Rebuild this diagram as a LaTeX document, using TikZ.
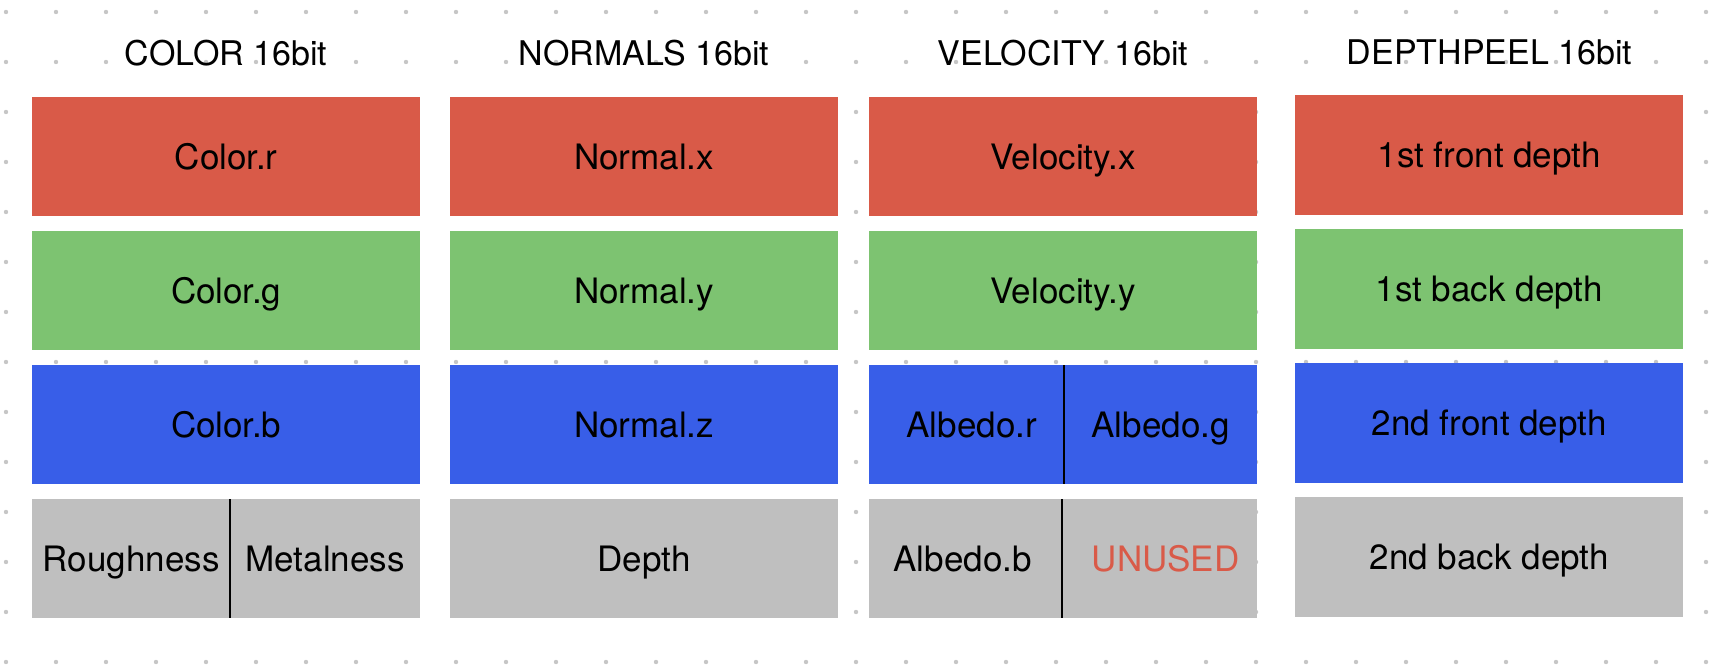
\documentclass[tikz,border=0pt]{standalone}
\usepackage{fontspec}
\setmainfont{TeX Gyre Heros}
\definecolor{cred}{HTML}{D95A48}
\definecolor{cgreen}{HTML}{7DC371}
\definecolor{cblue}{HTML}{385EE8}
\definecolor{cgray}{HTML}{BFBFBF}
\definecolor{cdot}{HTML}{C6C6C6}
\begin{document}
\begin{tikzpicture}[x=1pt,y=-1pt,
  cell/.style={rectangle, inner sep=0pt, anchor=north west, minimum height=119pt,
    text height=25pt, text depth=0pt, font=\fontsize{35}{42}\selectfont, text=black},
  full/.style={cell, minimum width=388pt},
  title/.style={anchor=base, inner sep=0pt, font=\fontsize{34}{40}\selectfont, text=black},
  divider/.style={draw=black, line width=2pt},
  griddot/.style={fill=cdot, draw=none}]
\useasboundingbox (0,0) rectangle (1736,668);
\fill[white] (0,0) rectangle (1736,668);
% dotted grid
\foreach \i in {0,...,34}{
  \foreach \j in {0,...,13}{
    \fill[griddot] (6+50*\i,12+50*\j) circle[radius=2.2pt];
  }
}
% titles
\node[title] (t1) at (226,66) {COLOR 16bit};
\node[title] (t2) at (644,66) {NORMALS 16bit};
\node[title] (t3) at (1063,66) {VELOCITY 16bit};
\node[title] (t4) at (1489.5,65) {DEPTHPEEL 16bit};
% column 1
\node[full, fill=cred]   (c1r) at (32,97)  {Color.r};
\node[full, fill=cgreen] (c1g) at (32,231) {Color.g};
\node[full, fill=cblue]  (c1b) at (32,365) {Color.b};
\node[cell, fill=cgray, minimum width=198pt] (c1al) at (32,499) {Roughness};
\node[cell, fill=cgray, minimum width=190pt] (c1ar) at (230,499) {Metalness};
\draw[divider] (c1al.north east) -- (c1al.south east);
% column 2
\node[full, fill=cred]   (c2r) at (450,97)  {Normal.x};
\node[full, fill=cgreen] (c2g) at (450,231) {Normal.y};
\node[full, fill=cblue]  (c2b) at (450,365) {Normal.z};
\node[full, fill=cgray]  (c2a) at (450,499) {Depth};
% column 3
\node[full, fill=cred]   (c3r) at (869,97)  {Velocity.x};
\node[full, fill=cgreen] (c3g) at (869,231) {Velocity.y};
\node[cell, fill=cblue, minimum width=195pt] (c3bl) at (869,365) {\hspace*{10pt}Albedo.r};
\node[cell, fill=cblue, minimum width=193pt] (c3br) at (1064,365) {Albedo.g};
\draw[divider] (c3bl.north east) -- (c3bl.south east);
\node[cell, fill=cgray, minimum width=193pt] (c3al) at (869,499) {Albedo.b\hspace*{6pt}};
\node[cell, fill=cgray, minimum width=195pt, text=cred] (c3ar) at (1062,499) {\hspace*{12pt}UNUSED};
\draw[divider] (c3al.north east) -- (c3al.south east);
% column 4
\node[full, fill=cred, minimum height=120pt]   (c4r) at (1295,95)  {1st front depth};
\node[full, fill=cgreen, minimum height=120pt] (c4g) at (1295,229) {1st back depth};
\node[full, fill=cblue, minimum height=120pt]  (c4b) at (1295,363) {2nd front depth};
\node[full, fill=cgray, minimum height=120pt]  (c4a) at (1295,497) {2nd back depth};
\end{tikzpicture}
\end{document}
